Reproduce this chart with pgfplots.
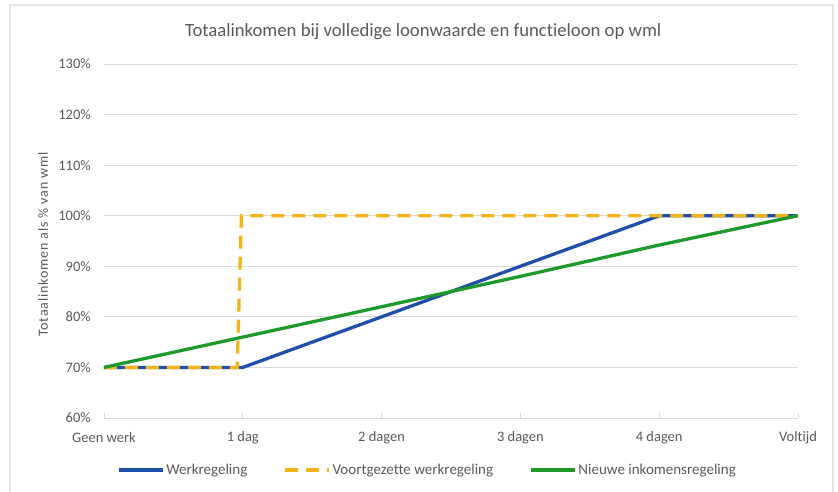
\documentclass[border=0pt]{standalone}
\usepackage{fontspec}
\setmainfont{Carlito}[Ligatures=NoCommon]
\newfontfamily\yfont{Carlito}[LetterSpace=6,Ligatures=NoCommon]
\usepackage{pgfplots}
\pgfplotsset{compat=1.18}
\definecolor{cblue}{HTML}{1F4FA8}
\definecolor{corange}{HTML}{F5B316}
\definecolor{cgreen}{HTML}{1E9A2C}
\definecolor{ctext}{HTML}{595959}
\definecolor{cgrid}{HTML}{D9D9D9}
\definecolor{cborder}{HTML}{E4E4E4}
\begin{document}
\begin{tikzpicture}
\begin{axis}[
  at={(0pt,0pt)}, anchor=south west,
  scale only axis, width=694pt, height=354pt,
  xmin=0, xmax=5, ymin=60, ymax=130,
  xtick={0,1,2,3,4,5},
  xticklabels={Geen werk,1 dag,2 dagen,3 dagen,4 dagen,Voltijd},
  ytick={60,70,80,90,100,110,120,130},
  yticklabels={60\%,70\%,80\%,90\%,100\%,110\%,120\%,130\%},
  axis line style={draw=none},
  ymajorgrids, grid style={cgrid, line width=0.9pt},
  xtick pos=bottom, tick align=inside, major tick length=5pt,
  xtick style={cgrid, line width=0.9pt},
  ytick style={draw=none},
  every tick label/.append style={font=\fontsize{14.5}{17}\selectfont, text=ctext},
  xticklabel style={anchor=center, yshift=-20pt},
  yticklabel style={anchor=east, inner sep=0pt, xshift=-13pt},
  title={Totaalinkomen bij volledige loonwaarde en functieloon op wml},
  title style={at={(0.46,1)}, anchor=center, yshift=26pt, font=\fontsize{18.7}{21}\selectfont, text=ctext},
  ylabel={\yfont Totaalinkomen als \% van wml},
  ylabel style={at={(axis description cs:-0.0879,0.49)}, anchor=center, font=\fontsize{14}{16}\selectfont, text=ctext},
  legend columns=3,
  legend style={at={(0.466,-0.147)}, anchor=center, draw=none, fill=none,
    font=\fontsize{15}{17}\selectfont, text=ctext,
    /tikz/every even column/.append style={column sep=34pt},
    inner sep=0pt, cells={anchor=west}},
  legend image code/.code={\draw[#1] (0pt,0pt) -- (44pt,0pt);},
]
\addplot[cblue, line width=3.3pt] coordinates {(0,70) (1,70) (4,100) (5,100)};
\addlegendentry{Werkregeling}
\addplot[corange, line width=3.3pt, dash pattern=on 13pt off 8pt] coordinates {(0,70) (0.96,70) (0.99,100) (5,100)};
\addlegendentry{Voortgezette werkregeling}
\addplot[cgreen, line width=3.3pt] coordinates {(0,70) (1,76) (2,82) (2.5,85) (3,88) (4,94.2) (5,100)};
\addlegendentry{Nieuwe inkomensregeling}
\end{axis}
\draw[cborder, line width=1.2pt] (-94pt,-90pt) -- (-94pt,413pt) -- (729pt,413pt) -- (729pt,-90pt);
\pgfresetboundingbox
\useasboundingbox (-104pt,-74pt) rectangle (734pt,418pt);
\end{tikzpicture}
\end{document}
